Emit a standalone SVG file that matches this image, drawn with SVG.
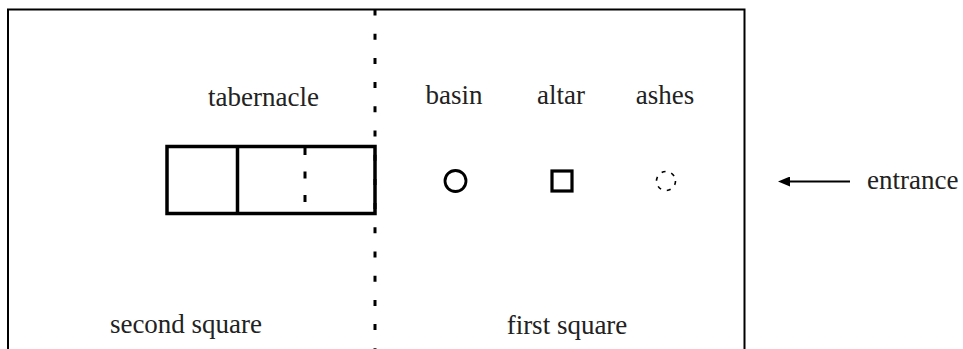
<svg xmlns="http://www.w3.org/2000/svg" width="963" height="349" viewBox="0 0 963 349">
<defs>
<style>
.t{font-size:27px;fill:#222;}
.thick{fill:none;stroke:#000;stroke-width:3.5;}
.dot{fill:none;stroke:#000;stroke-width:3;}
</style>
<marker id="ah" viewBox="0 0 12 10" refX="0" refY="5" markerWidth="6" markerHeight="5" orient="auto" markerUnits="strokeWidth">
<path d="M0,0 L12,5 L0,10 Z" fill="#000"/>
</marker>
</defs>
<rect width="963" height="349" fill="#fff"/>
<g id="court">
<path d="M8,360 V9.5 H744.5 V360" fill="none" stroke="#000" stroke-width="2"/>
</g>
<g id="divider">
<line x1="375" y1="9.5" x2="375" y2="349" class="dot" stroke-dasharray="6 18.2"/>
</g>
<g font-family="Liberation Serif">
<g id="tabernacle">
<rect x="167" y="146.5" width="208" height="67" class="thick"/>
<line x1="237.5" y1="146.5" x2="237.5" y2="213.5" class="thick"/>
<line x1="305" y1="148" x2="305" y2="210" class="dot" stroke-dasharray="7 16.5"/>
<text class="t" x="263.5" y="106" text-anchor="middle">tabernacle</text>
</g>
<g id="basin">
<circle cx="455.5" cy="181" r="10.5" fill="none" stroke="#000" stroke-width="2.8"/>
<text class="t" x="454" y="104" text-anchor="middle">basin</text>
</g>
<g id="altar">
<rect x="552" y="171" width="20" height="20" fill="none" stroke="#000" stroke-width="3.2"/>
<text class="t" x="561" y="104" text-anchor="middle">altar</text>
</g>
<g id="ashes">
<circle cx="666" cy="181" r="9.5" fill="none" stroke="#000" stroke-width="1.6" stroke-dasharray="4 6"/>
<text class="t" x="665" y="104" text-anchor="middle">ashes</text>
</g>
<g id="entrance">
<text class="t" x="867" y="189">entrance</text>
</g>
<g id="labels">
<text class="t" x="186" y="333" text-anchor="middle">second square</text>
<text class="t" x="567" y="334" text-anchor="middle">first square</text>
</g>
</g>
<g id="connectors">
<line x1="850" y1="181.5" x2="790" y2="181.5" stroke="#000" stroke-width="2" marker-end="url(#ah)"/>
</g>
</svg>
